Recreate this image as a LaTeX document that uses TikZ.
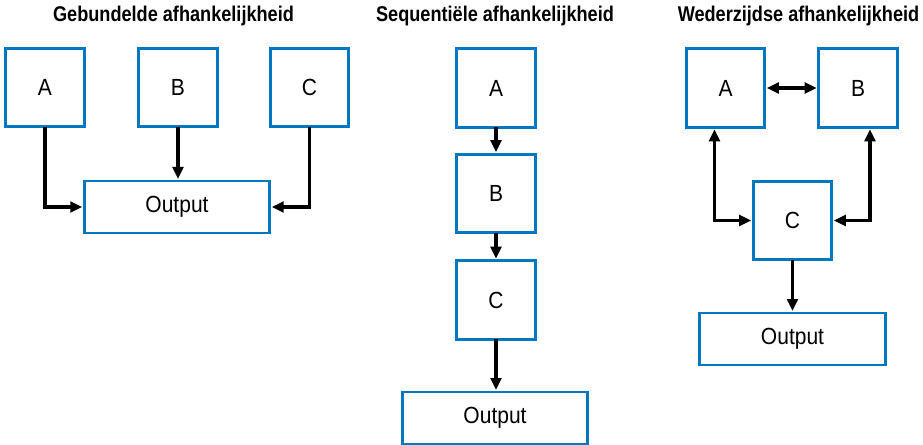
\documentclass[tikz,border=0pt]{standalone}
\usepackage{fontspec}
\setmainfont{Liberation Sans}[FakeStretch=0.9]
\newfontfamily\titlefont{Liberation Sans}[FakeStretch=0.85]
\usetikzlibrary{arrows.meta}
\definecolor{boxblue}{RGB}{0,120,193}
\begin{document}
\begin{tikzpicture}[x=0.75pt,y=-0.75pt,
  box/.style={draw=boxblue,line width=2.2pt,inner sep=0pt,outer sep=0pt,
    font=\fontsize{17.5}{21}\selectfont},
  sq/.style={box,minimum width=59pt,minimum height=59pt},
  outbox/.style={box,minimum width=139pt,minimum height=39pt},
  ttl/.style={font=\titlefont\bfseries\fontsize{16}{19}\selectfont,inner sep=0pt},
  arr/.style={line width=2.3pt,-{Triangle[length=9pt,width=8pt]},shorten >=1.5pt},
  darr/.style={line width=2.3pt,{Triangle[length=9pt,width=8pt]}-{Triangle[length=9pt,width=8pt]},shorten >=1.5pt,shorten <=1.5pt}]
\useasboundingbox (0,0) rectangle (923,445);

% left panel
\node[ttl] (t1) at (173.5,16) {Gebundelde afhankelijkheid};
\node[sq] (la) at (45,87.5) {A};
\node[sq] (lb) at (178,87.5) {B};
\node[sq] (lc) at (309.5,87.5) {C};
\node[outbox] (lo) at (177,207) {Output};
\draw[arr] (la.south) |- (lo.west);
\draw[arr] (lb.south) -- (lb.south |- lo.north);
\draw[arr] (lc.south) |- (lo.east);

% middle panel
\node[ttl] (t2) at (495,16) {Sequentiële afhankelijkheid};
\node[sq] (ma) at (496,88) {A};
\node[sq] (mb) at (496,193.5) {B};
\node[sq] (mc) at (496,300) {C};
\node[outbox] (mo) at (495,418) {Output};
\draw[arr] (ma.south) -- (mb.north);
\draw[arr] (mb.south) -- (mc.north);
\draw[arr] (mc.south) -- (mc.south |- mo.north);

% right panel
\node[ttl] (t3) at (798.5,16) {Wederzijdse afhankelijkheid};
\node[sq] (ra) at (725.5,88) {A};
\node[sq] (rb) at (858,88) {B};
\node[sq] (rc) at (792.5,220.5) {C};
\node[outbox] (ro) at (792.5,339) {Output};
\coordinate (ras) at ([xshift=-8.25pt]ra.south);
\coordinate (rbs) at ([xshift=9pt]rb.south);
\draw[darr] (ra.east) -- (rb.west);
\draw[darr] (ras) |- (rc.west);
\draw[darr] (rbs) |- (rc.east);
\draw[arr] (rc.south) -- (ro.north);
\end{tikzpicture}
\end{document}
